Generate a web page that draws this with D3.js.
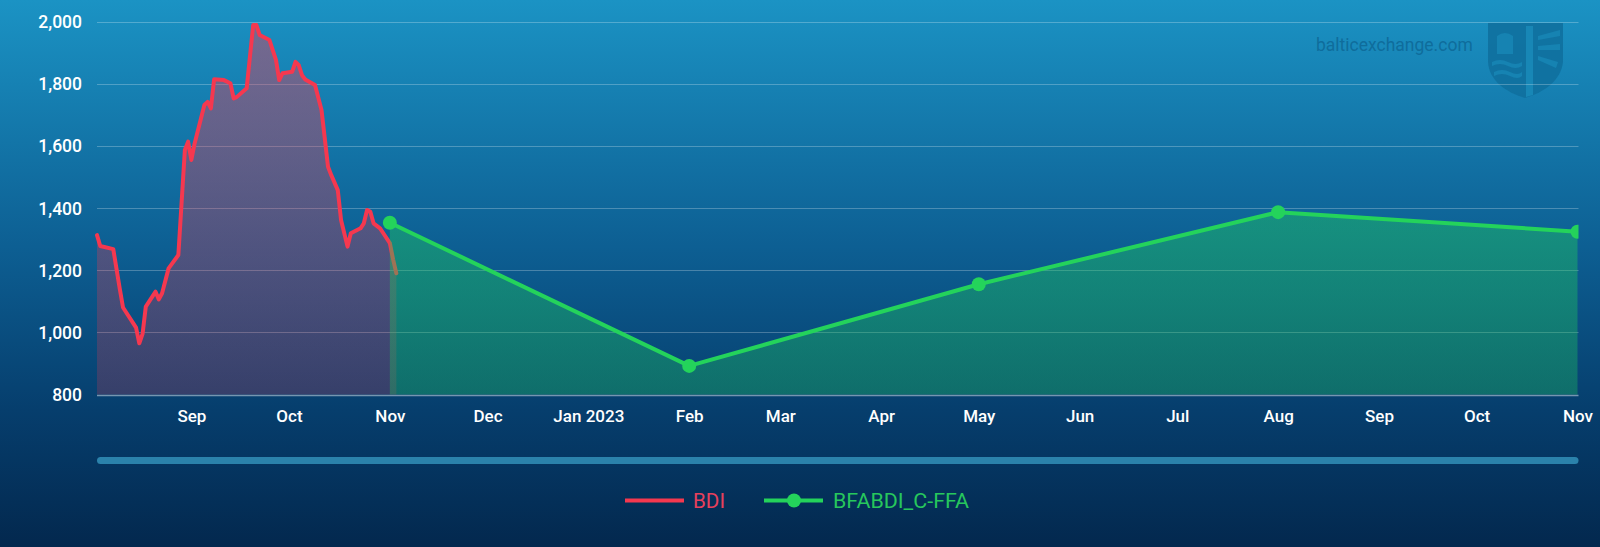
<!DOCTYPE html>
<html>
<head>
<meta charset="utf-8">
<script src="https://cdn.jsdelivr.net/npm/d3@7"></script>
<style>
  html, body { margin: 0; padding: 0; background: #062c55; }
  svg { display: block; }
</style>
</head>
<body>
<div id="chart"></div>
<script>
// ---------------- DATA ----------------
const bdiDates = ["2022-08-03","2022-08-04","2022-08-08","2022-08-10","2022-08-11","2022-08-15","2022-08-16","2022-08-17","2022-08-18","2022-08-21","2022-08-22","2022-08-23","2022-08-25","2022-08-28","2022-08-30","2022-08-31","2022-09-01","2022-09-02","2022-09-05","2022-09-06","2022-09-07","2022-09-08","2022-09-11","2022-09-13","2022-09-14","2022-09-15","2022-09-18","2022-09-20","2022-09-21","2022-09-22","2022-09-25","2022-09-27","2022-09-28","2022-09-29","2022-10-02","2022-10-03","2022-10-04","2022-10-05","2022-10-06","2022-10-09","2022-10-11","2022-10-13","2022-10-14","2022-10-16","2022-10-17","2022-10-19","2022-10-20","2022-10-23","2022-10-24","2022-10-25","2022-10-26","2022-10-27","2022-10-29","2022-10-30","2022-11-01","2022-11-02","2022-11-03"];
const bdiValues = [1313,1278,1268,1140,1080,1015,965,995,1083,1131,1106,1126,1206,1249,1587,1614,1555,1608,1732,1742,1721,1815,1812,1802,1753,1758,1786,1989,1989,1957,1941,1877,1812,1834,1839,1871,1860,1828,1814,1796,1716,1533,1506,1458,1362,1276,1319,1335,1351,1394,1388,1351,1335,1319,1287,1235,1190];

const ffaDates = ["2022-11-01","2023-02-01","2023-05-01","2023-08-01","2023-11-01"];
const ffaValues = [1353, 892, 1155, 1387, 1324];

const xTickDates = ["2022-09-01","2022-10-01","2022-11-01","2022-12-01","2023-01-01","2023-02-01","2023-03-01","2023-04-01","2023-05-01","2023-06-01","2023-07-01","2023-08-01","2023-09-01","2023-10-01","2023-11-01"];
const xTickLabels = ["Sep","Oct","Nov","Dec","Jan 2023","Feb","Mar","Apr","May","Jun","Jul","Aug","Sep","Oct","Nov"];
const yTicks = [800, 1000, 1200, 1400, 1600, 1800, 2000];

const seriesNames = ["BDI", "BFABDI_C-FFA"];
const xDomain = ["2022-08-03", "2023-11-01"];
const yDomain = [800, 2000];

// ---------------- SETUP ----------------
const W = 1600, H = 547;
const plot = { left: 97, right: 1577.5, top: 21.7, bottom: 394.5 };
const parse = d3.utcParse("%Y-%m-%d");

const x = d3.scaleUtc().domain(xDomain.map(parse)).range([plot.left, plot.right]);
const y = d3.scaleLinear().domain(yDomain).range([plot.bottom, plot.top]);

const bdi = bdiDates.map((d, i) => ({ date: parse(d), value: bdiValues[i] }));
const ffa = ffaDates.map((d, i) => ({ date: parse(d), value: ffaValues[i] }));

const svg = d3.select("#chart").append("svg").attr("width", W).attr("height", H);
const defs = svg.append("defs");

// background gradient
const bg = defs.append("linearGradient").attr("id", "bg")
  .attr("x1", 0).attr("y1", 0).attr("x2", 0).attr("y2", 1);
bg.append("stop").attr("offset", "0%").attr("stop-color", "#1b93c4");
bg.append("stop").attr("offset", "45%").attr("stop-color", "#0d5f93");
bg.append("stop").attr("offset", "75%").attr("stop-color", "#063e6d");
bg.append("stop").attr("offset", "100%").attr("stop-color", "#03284e");
svg.append("rect").attr("width", W).attr("height", H).attr("fill", "url(#bg)");

// area gradients
const redCol = "#f5384f", greenCol = "#24d35b";
const gRed = defs.append("linearGradient").attr("id", "gRed")
  .attr("gradientUnits", "userSpaceOnUse")
  .attr("x1", 0).attr("x2", 0).attr("y1", y(d3.max(bdiValues))).attr("y2", y(800));
gRed.append("stop").attr("offset", "0%").attr("stop-color", redCol).attr("stop-opacity", 0.42);
gRed.append("stop").attr("offset", "100%").attr("stop-color", redCol).attr("stop-opacity", 0.2);
const gGreen = defs.append("linearGradient").attr("id", "gGreen")
  .attr("gradientUnits", "userSpaceOnUse")
  .attr("x1", 0).attr("x2", 0).attr("y1", y(d3.max(ffaValues))).attr("y2", y(800));
gGreen.append("stop").attr("offset", "0%").attr("stop-color", "#20c85e").attr("stop-opacity", 0.44);
gGreen.append("stop").attr("offset", "100%").attr("stop-color", "#20c85e").attr("stop-opacity", 0.33);

defs.append("clipPath").attr("id", "clip").append("rect")
  .attr("x", plot.left - 10).attr("y", 0).attr("width", plot.right - plot.left + 11).attr("height", plot.bottom + 2);

// ---------------- WATERMARK ----------------
svg.append("text")
  .attr("x", 1316).attr("y", 51)
  .attr("font-family", "Roboto, sans-serif").attr("font-size", 17.5)
  .attr("fill", "#0f6d9c").text("balticexchange.com");

const logo = svg.append("g").attr("fill", "#10709f").attr("opacity", 0.9);
logo.append("path").attr("d", "M1488,23 L1563,23 L1563,62 C1561,80 1545,92 1525,98 C1505,92 1489,80 1488,62 Z");
const det = svg.append("g").attr("fill", "#1683b2").attr("stroke", "none");
det.append("path").attr("d", "M1526,26 L1533,26 L1533,95 L1526,97 Z").attr("fill", "#1887b6");
det.append("path").attr("d", "M1538,36 L1560,30 L1560,36 L1538,40 Z");
det.append("path").attr("d", "M1538,46 L1560,44 L1560,50 L1538,50 Z");
det.append("path").attr("d", "M1538,56 L1558,62 L1556,68 L1538,60 Z");
det.append("path").attr("d", "M1497,36 Q1505,30 1513,36 L1513,54 L1497,54 Z");
det.append("path").attr("d", "M1492,62 Q1500,58 1508,62 Q1516,66 1522,62 L1522,66 Q1516,70 1508,66 Q1500,62 1492,66 Z");
det.append("path").attr("d", "M1494,72 Q1502,68 1510,72 Q1518,76 1522,72 L1522,76 Q1518,80 1510,76 Q1502,72 1494,76 Z");

// ---------------- GRID ----------------
const grid = svg.append("g");
grid.selectAll("line").data(yTicks).join("line")
  .attr("x1", plot.left).attr("x2", plot.right + 1)
  .attr("y1", d => Math.round(y(d)) + 0.5).attr("y2", d => Math.round(y(d)) + 0.5)
  .attr("stroke", "#ffffff")
  .attr("stroke-opacity", d => d === 800 ? 0.45 : 0.25)
  .attr("stroke-width", d => d === 800 ? 1.5 : 1);

// ---------------- AXES ----------------
const yAxis = svg.append("g")
  .attr("transform", `translate(${plot.left - 15},0)`)
  .call(d3.axisLeft(y).tickValues(yTicks).tickSize(0).tickPadding(0).tickFormat(d3.format(",")));
yAxis.select(".domain").remove();
yAxis.selectAll("text")
  .attr("font-family", "Roboto, sans-serif").attr("font-size", 17.5).attr("font-weight", 500)
  .attr("fill", "#ffffff").attr("dy", "0.34em");

const xAxis = svg.append("g")
  .attr("transform", `translate(0,${plot.bottom})`)
  .call(d3.axisBottom(x).tickValues(xTickDates.map(parse)).tickSize(0).tickPadding(0)
    .tickFormat((d, i) => xTickLabels[i]));
xAxis.select(".domain").remove();
xAxis.selectAll("text")
  .attr("font-family", "Roboto, sans-serif").attr("font-size", 17).attr("font-weight", 500)
  .attr("fill", "#ffffff").attr("dy", 0).attr("y", 27.5);

// ---------------- SERIES ----------------
const plotG = svg.append("g").attr("clip-path", "url(#clip)");

const area = d3.area().x(d => x(d.date)).y0(y(800)).y1(d => y(d.value));
const line = d3.line().x(d => x(d.date)).y(d => y(d.value));

plotG.append("path").datum(bdi).attr("d", area).attr("fill", "url(#gRed)");
plotG.append("path").datum(bdi).attr("d", line)
  .attr("fill", "none").attr("stroke", redCol).attr("stroke-width", 4)
  .attr("stroke-linejoin", "round").attr("stroke-linecap", "round");

plotG.append("path").datum(ffa).attr("d", area).attr("fill", "url(#gGreen)");
plotG.append("path").datum(ffa).attr("d", line)
  .attr("fill", "none").attr("stroke", greenCol).attr("stroke-width", 4)
  .attr("stroke-linejoin", "round");
plotG.selectAll("circle.m").data(ffa).join("circle").attr("class", "m")
  .attr("cx", d => x(d.date)).attr("cy", d => y(d.value)).attr("r", 7)
  .attr("fill", greenCol);

// ---------------- SCROLLBAR ----------------
svg.append("rect")
  .attr("x", plot.left).attr("y", 457).attr("width", plot.right - plot.left + 1).attr("height", 7)
  .attr("rx", 3.5).attr("fill", "#2b82ab");

// ---------------- LEGEND ----------------
const leg = svg.append("g");
leg.append("line").attr("x1", 625).attr("x2", 684).attr("y1", 500.5).attr("y2", 500.5)
  .attr("stroke", redCol).attr("stroke-width", 4);
leg.append("text").attr("x", 693).attr("y", 508)
  .attr("font-family", "Roboto, sans-serif").attr("font-size", 21)
  .attr("fill", "#e8405c").attr("textLength", 32).attr("lengthAdjust", "spacingAndGlyphs")
  .text(seriesNames[0]);
leg.append("line").attr("x1", 764).attr("x2", 823).attr("y1", 500.5).attr("y2", 500.5)
  .attr("stroke", greenCol).attr("stroke-width", 4);
leg.append("circle").attr("cx", 794).attr("cy", 500.5).attr("r", 7).attr("fill", greenCol);
leg.append("text").attr("x", 833).attr("y", 508)
  .attr("font-family", "Roboto, sans-serif").attr("font-size", 21)
  .attr("fill", "#27c75c").attr("textLength", 136).attr("lengthAdjust", "spacingAndGlyphs")
  .text(seriesNames[1]);
</script>
</body>
</html>
